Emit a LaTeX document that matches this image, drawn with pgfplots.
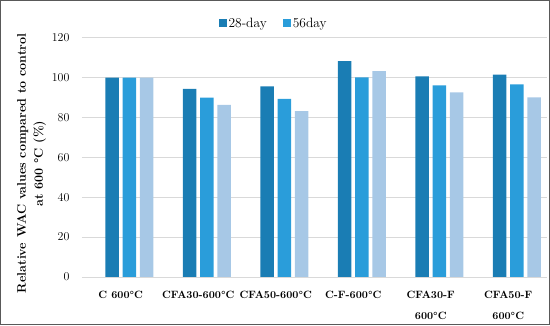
\documentclass[border=0pt]{standalone}
\usepackage{fontspec}
\usepackage{pgfplots}
\pgfplotsset{compat=1.18}
\definecolor{cA}{HTML}{1A7DB4}
\definecolor{cB}{HTML}{2A9DDA}
\definecolor{cC}{HTML}{A7C8E6}
\definecolor{gridc}{HTML}{D9D9D9}
\begin{document}
\begin{tikzpicture}
\begin{axis}[
  at={(0pt,0pt)}, anchor=south west,
  scale only axis, width=465pt, height=239.3pt,
  xmin=-0.5, xmax=5.5, ymin=0, ymax=120,
  ybar=3.8pt, bar width=13.5pt,
  xtick={0,1,2,3,4,5},
  xticklabels={{C 600°C},{CFA30-600°C},{CFA50-600°C},{C-F-600°C},{CFA30-F\\600°C},{CFA50-F\\600°C}},
  x tick label style={font=\fontsize{10.6}{21}\selectfont\bfseries, align=center, anchor=north, yshift=-11pt},
  ytick={0,20,40,60,80,100,120},
  y tick label style={font=\fontsize{12}{13}\selectfont, xshift=-9pt},
  /pgf/number format/assume math mode=true,
  major tick length=0pt,
  ymajorgrids, grid style={gridc, line width=0.8pt},
  axis line style={draw=none},
  axis x line*=bottom, axis y line*=left,
  ylabel={Relative WAC values compared to control\\at 600 °C (\%)},
  ylabel style={font=\fontsize{12.5}{17}\selectfont\bfseries, align=center, at={(rel axis cs:0,0.5)}, anchor=center, yshift=50.5pt, xshift=-6pt},
  legend style={at={(0.412,1.061)}, anchor=center, draw=none, fill=none,
    legend columns=2, font=\fontsize{13.5}{15}\selectfont,
    /tikz/every even column/.append style={column sep=14pt}},
  legend image code/.code={\fill[#1] (0pt,-3.5pt) rectangle (8pt,4.5pt);},
]
\addplot[fill=cA, draw=none] coordinates {(0,100) (1,94.3) (2,95.6) (3,108.2) (4,100.6) (5,101.5)};
\addplot[fill=cB, draw=none] coordinates {(0,100) (1,89.9) (2,89.3) (3,100.1) (4,96.1) (5,96.6)};
\addplot[fill=cC, draw=none, forget plot] coordinates {(0,100) (1,86.3) (2,83.2) (3,103.2) (4,92.6) (5,90.1)};
\legend{28-day,56day}
\draw[gridc, line width=0.8pt] (rel axis cs:0,0) -- (rel axis cs:1,0);
\end{axis}
\draw[line width=1pt, black!65] (-81.5pt,-47.5pt) rectangle (467.5pt,276.5pt);
\pgfresetboundingbox
\useasboundingbox (-82pt,-48pt) rectangle (468pt,277pt);
\end{tikzpicture}
\end{document}
